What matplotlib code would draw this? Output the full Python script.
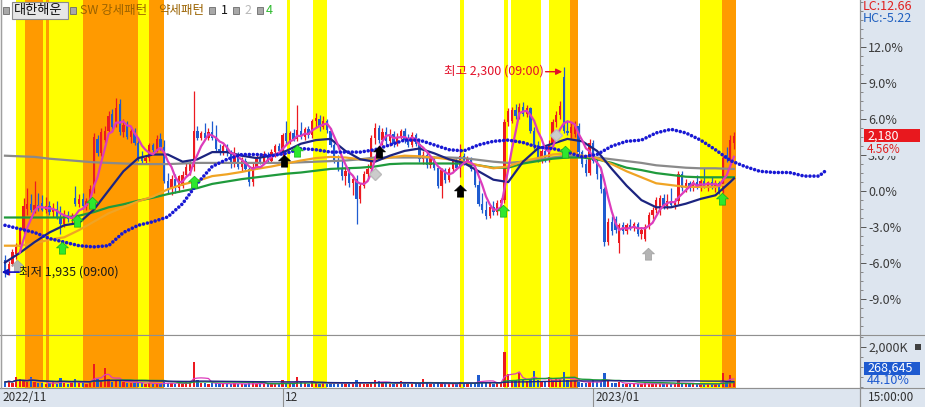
import numpy as np
import pandas as pd
import matplotlib
matplotlib.use("Agg")
import matplotlib.pyplot as plt
from matplotlib.path import Path
from matplotlib.patches import Rectangle
from matplotlib.lines import Line2D
import matplotlib.transforms as mtrans
from matplotlib.ticker import MultipleLocator

plt.rcParams['font.family'] = ['Noto Sans CJK KR', 'DejaVu Sans']

# ---------------- data (percent change vs. base price) ----------------
opens = [-5.8,-6.7,-6.1,-5.3,-4.7,-3.3,-1.5,-1.1,-1.6,-1.2,
         -1.0,-1.6,-1.3,-1.8,-1.5,-2.2,-2.8,-2.0,-2.4,-0.6,
         -1.1,-0.7,-1.3,-0.9,0.1,4.3,3.1,4.2,5.0,6.4,
         5.5,7.2,4.9,5.5,4.5,5.0,4.0,2.7,2.5,2.7,
         3.8,3.4,4.3,3.6,0.8,0.1,1.0,0.2,0.4,1.3,
         1.6,2.0,5.0,4.4,4.8,4.4,4.9,4.4,3.5,3.2,
         3.7,3.1,2.2,3.0,2.0,2.5,1.8,0.7,2.0,2.8,
         2.4,3.0,2.5,3.2,3.7,3.3,4.8,4.1,4.8,4.3,
         5.0,4.5,5.1,4.6,5.8,6.0,5.3,5.8,5.0,3.8,
         2.5,1.8,1.2,1.6,0.6,1.0,-0.7,0.4,1.4,1.8,
         4.4,5.2,4.2,4.9,4.1,4.7,3.9,4.5,5.0,4.2,
         3.8,4.6,3.9,2.6,3.0,2.1,2.7,1.9,0.4,1.7,
         0.9,1.8,2.5,1.9,2.9,2.3,2.6,1.8,0.5,-1.1,
         -1.6,-2.1,-1.4,-1.8,-1.0,-0.8,5.7,5.8,6.7,6.2,
         7.0,6.4,6.9,5.0,3.8,2.6,3.3,2.6,3.9,5.7,
         6.3,9.5,5.0,4.8,4.7,5.4,3.2,2.2,1.5,4.0,
         2.5,1.4,0.1,-4.3,-2.6,-2.4,-4.4,-2.9,-3.4,-2.9,
         -3.1,-2.8,-3.6,-4.0,-3.0,-2.0,-1.6,-1.8,-0.6,-1.3,
         -0.9,-1.2,-0.9,1.4,0.2,0.6,0.2,0.7,0.3,0.8,
         0.4,0.7,0.3,0.6,0.0,3.0,2.6,4.0]
highs = [-5.4,-5.9,-4.9,-4.4,-3.1,-0.6,0.2,-0.3,0.8,-0.2,
         -0.4,-0.5,-0.9,-1.0,-0.9,-1.3,-1.6,-1.7,-1.9,0.4,
         -0.3,-0.2,-0.6,0.5,4.8,4.6,5.2,5.4,6.6,6.8,
         7.7,7.6,6.0,5.8,5.3,5.2,4.3,3.3,3.0,4.0,
         4.0,4.6,4.8,4.2,1.5,1.3,1.4,1.3,1.6,2.3,
         2.5,8.3,5.4,5.0,5.6,5.2,5.8,5.5,3.9,3.9,
         3.9,3.4,3.6,3.2,2.8,2.7,2.0,2.3,3.0,3.1,
         3.3,3.2,3.5,3.9,4.0,4.8,5.8,5.0,5.1,7.1,
         5.7,5.3,5.4,6.0,6.5,6.3,6.2,6.0,5.2,4.0,
         3.0,2.6,2.0,1.9,1.2,1.3,0.6,1.6,2.2,4.6,
         5.6,5.5,5.2,5.3,5.1,5.0,4.8,5.1,5.2,4.7,
         4.9,4.8,4.2,3.3,3.2,3.0,2.9,2.0,1.9,1.9,
         2.0,2.6,2.7,3.9,3.1,2.9,2.8,2.0,0.9,-0.2,
         -0.9,-1.2,-0.9,-0.8,-0.6,6.0,6.9,7.0,7.2,7.3,
         7.4,7.1,7.0,5.3,4.1,3.5,3.6,4.2,6.0,6.6,
         7.5,10.3,5.9,5.6,5.8,5.6,3.4,2.6,4.3,4.2,
         2.8,1.9,0.3,-2.3,-2.1,-2.1,-2.7,-2.6,-2.7,-2.4,
         -2.6,-2.6,-3.0,-2.8,-1.8,-1.4,-0.5,-0.4,-0.3,-0.3,
         0.2,-0.6,1.6,1.6,1.0,0.8,0.9,1.3,1.0,1.9,
         0.8,1.1,0.9,0.8,2.9,3.6,4.6,4.9]
lows = [-7.2,-7.0,-6.3,-5.7,-5.0,-3.6,-2.0,-1.8,-1.9,-1.7,
        -1.7,-1.9,-2.0,-2.2,-2.4,-3.6,-3.0,-2.6,-2.7,-1.3,
        -1.4,-1.5,-1.6,-1.1,-0.2,2.9,2.9,4.0,4.8,5.0,
        5.3,4.6,4.5,4.3,4.0,3.8,2.5,2.2,2.2,2.5,
        3.2,3.2,3.4,0.6,-0.3,-0.4,-0.2,-0.1,0.2,1.1,
        1.3,1.6,4.2,4.2,4.3,4.2,4.2,3.2,3.0,3.0,
        2.9,1.9,2.0,1.8,1.6,1.6,0.4,0.4,1.8,2.2,
        2.2,2.3,2.3,2.8,3.0,2.9,3.8,3.9,4.1,4.1,
        4.3,4.2,4.4,4.4,5.2,5.0,5.1,4.8,3.6,2.3,
        1.6,0.9,0.5,0.3,-0.4,-2.8,-1.0,0.2,1.0,1.6,
        3.9,4.0,3.8,3.9,3.7,3.6,3.7,4.3,4.0,3.6,
        3.6,3.7,2.4,2.2,1.9,1.9,1.7,0.2,-0.6,0.6,
        0.7,1.6,1.7,1.1,2.1,2.1,1.6,0.3,-1.3,-1.9,
        -2.4,-2.3,-2.0,-2.0,-1.9,-1.0,5.4,5.6,6.0,6.0,
        6.2,6.1,4.8,3.5,2.4,2.3,2.4,2.4,3.7,5.3,
        6.0,4.8,4.6,4.4,4.5,3.0,2.0,1.2,1.3,2.3,
        1.0,-0.2,-4.6,-4.5,-3.7,-3.5,-5.2,-3.6,-3.6,-3.3,
        -3.4,-3.8,-4.0,-4.2,-3.2,-2.4,-1.9,-2.0,-1.5,-1.5,
        -1.4,-1.5,-1.1,0.0,-0.1,0.0,0.0,0.1,0.0,0.2,
        0.0,0.1,-0.1,-0.3,-0.2,2.4,2.4,3.5]
closes = [-6.7,-6.1,-5.1,-4.7,-3.3,-1.3,-1.1,-1.6,-1.2,-1.5,
          -1.6,-1.3,-1.8,-1.5,-2.2,-2.8,-2.0,-2.4,-2.1,-1.1,
          -0.7,-1.3,-0.9,0.1,4.5,3.1,4.9,5.0,6.2,5.3,
          6.9,4.9,5.5,4.5,5.0,4.0,2.7,2.5,2.7,3.8,
          3.4,4.3,3.6,0.8,0.1,1.0,0.2,1.2,1.3,2.0,
          2.2,5.0,4.4,4.8,4.4,4.9,4.4,3.5,3.2,3.7,
          3.1,2.2,3.0,2.0,2.5,1.8,0.7,2.0,2.8,2.4,
          3.0,2.5,3.2,3.7,3.3,4.6,4.1,4.8,4.3,5.0,
          4.5,5.1,4.6,5.8,6.0,5.3,5.8,5.0,3.8,2.5,
          1.8,1.2,1.6,0.6,1.0,-0.7,0.4,1.4,1.8,4.4,
          5.2,4.2,4.9,4.1,4.7,3.9,4.5,5.0,4.2,3.8,
          4.6,3.9,2.6,3.0,2.1,2.7,1.9,0.4,1.7,0.9,
          1.8,2.5,1.9,2.9,2.3,2.6,1.8,0.5,-1.1,-1.6,
          -2.1,-1.4,-1.8,-1.0,-0.8,5.7,6.6,6.7,6.2,7.0,
          6.4,6.9,5.0,3.8,2.6,3.3,2.6,3.9,5.7,6.3,
          7.0,5.0,4.8,5.3,5.4,3.2,2.2,1.5,4.0,2.5,
          1.4,0.1,-4.3,-2.6,-3.4,-3.3,-2.9,-3.4,-2.9,-3.1,
          -2.8,-3.6,-3.3,-3.0,-2.0,-1.6,-0.8,-0.6,-1.3,-0.9,
          -1.2,-0.9,1.4,0.2,0.6,0.2,0.7,0.3,0.8,0.4,
          0.7,0.3,0.6,0.0,2.7,2.6,4.2,4.56]
volumes_k = [250,310,220,520,380,290,240,520,260,180,
             210,160,190,230,170,470,200,160,210,400,
             180,220,170,260,1140,420,300,950,380,260,
             330,300,260,220,190,210,250,180,160,200,
             150,170,140,260,220,180,150,190,170,230,
             260,1240,330,220,180,160,210,190,150,140,
             170,160,190,150,140,130,180,230,160,150,
             140,170,150,180,160,350,200,170,190,520,
             230,190,160,300,210,170,180,160,190,230,
             200,180,150,170,160,350,190,170,160,230,
             350,300,200,180,160,150,170,300,190,160,
             150,180,170,420,190,160,150,180,200,150,
             140,170,150,260,180,150,160,190,620,280,
             230,200,170,190,220,1760,660,350,300,700,
             330,290,380,810,360,280,230,480,330,400,
             380,760,330,280,300,260,220,200,250,330,
             240,230,680,280,200,180,230,170,160,150,
             140,160,150,190,170,160,150,140,160,170,
             150,140,330,180,150,140,130,150,140,160,
             140,150,130,160,700,300,600,269]

line_bars = list(range(0, 197, 4)) + [197]
ma_gray = [2.9,2.85,2.8,2.65,2.55,2.45,2.35,2.3,2.25,2.2,
           2.2,2.2,2.25,2.3,2.3,2.3,2.3,2.3,2.3,2.3,
           2.35,2.4,2.45,2.5,2.6,2.75,2.75,2.75,2.75,2.75,
           2.75,2.7,2.55,2.4,2.3,2.4,2.55,2.75,2.9,2.85,
           2.75,2.6,2.45,2.3,2.1,2.0,1.9,1.85,1.85,1.8,1.8]
ma_green = [-2.25,-2.25,-2.25,-2.25,-2.25,-2.1,-1.8,-1.4,-1.15,-0.85,
            -0.6,-0.3,-0.05,0.2,0.55,0.75,0.95,1.1,1.25,1.4,
            1.5,1.65,1.8,1.85,1.9,2.0,2.2,2.25,2.25,2.25,
            2.25,2.25,2.1,1.9,1.9,2.25,2.45,2.65,2.75,2.75,
            2.6,2.3,1.9,1.7,1.45,1.3,1.15,1.1,1.1,1.1,1.1]
ma_orange = [-4.6,-4.6,-4.4,-4.1,-3.9,-3.3,-2.6,-1.9,-1.4,-0.9,
             -0.5,0.1,0.5,0.8,1.2,1.35,1.55,1.8,2.0,2.25,
             2.5,2.7,2.8,2.75,2.6,2.55,2.75,2.9,2.85,2.75,
             2.6,2.4,2.1,1.85,2.0,2.45,2.7,3.0,3.1,2.9,
             2.7,2.2,1.6,1.1,0.6,0.45,0.3,0.3,0.3,0.6,0.8]
ma_navy = [-6.0,-5.2,-4.3,-3.5,-2.9,-2.7,-1.6,0.0,1.6,2.7,
           3.0,3.0,2.4,2.6,3.2,3.2,2.9,2.7,2.9,3.3,
           3.9,4.2,4.3,3.3,2.6,2.4,2.9,3.3,3.5,3.1,
           2.6,2.3,1.6,0.9,0.7,2.4,3.5,3.9,4.3,4.1,
           3.3,1.8,0.4,-0.8,-1.4,-1.4,-1.1,-0.7,-0.4,0.7,1.0]

dot_bars = list(range(0, 221, 4)) + [222]
dot_vals = [-2.9,-3.2,-3.5,-4.0,-4.3,-4.6,-4.7,-4.6,-3.5,-2.9,
            -2.6,-2.2,-1.1,0.6,2.0,2.6,3.0,3.0,2.9,3.1,
            3.5,3.4,3.2,3.2,3.2,3.4,3.8,4.2,4.2,3.8,
            3.4,3.3,3.8,4.1,4.2,4.0,3.6,3.5,3.2,2.8,
            3.0,3.7,4.1,4.2,4.8,5.1,4.8,4.2,3.4,2.5,
            2.0,1.6,1.5,1.5,1.2,1.2,1.7]

yellow_bands = [(3.0, 5.4), (10.3, 11.1), (11.8, 21.1), (36.0, 38.9), (76.2, 77.0),
                (83.2, 87.0), (123.0, 124.1), (134.9, 135.9), (136.8, 144.9),
                (147.0, 152.7), (187.8, 193.8)]
orange_bands = [(5.4, 10.3), (11.1, 11.8), (21.1, 36.0), (38.9, 43.0),
                (152.7, 154.9), (193.8, 197.6)]

green_sig_x = [15.4, 19.5, 23.5, 51, 79, 134.6, 151.4, 193.8]
green_sig_y = [-4.8, -2.5, -1.0, 0.75, 3.3, -1.7, 3.2, -0.7]
black_sig_x = [75.4, 101, 123]
black_sig_y = [2.5, 3.2, 0.0]
gray_sig_x = [3.2, 173.8]
gray_sig_y = [-6.25, -5.25]
diamond_x = [100, 149]
diamond_y = [1.4, 4.6]

y_ticks = [12, 9, 6, 3, 0, -3, -6, -9]
date_labels = ['2022/11', '12', '2023/01']
date_bars = [0, 75, 159]

# ---------------- layout ----------------
W, H = 925, 407
fig = plt.figure(figsize=(W / 100, H / 100), dpi=100)
fig.patch.set_facecolor('white')
PANEL = '#dde5ef'
LINEC = '#909090'
RED = '#ec1a20'
BLUE = '#1f5cd0'

def box(x0, y0, x1, y1):
    return [x0 / W, 1 - y1 / H, (x1 - x0) / W, (y1 - y0) / H]

def ft(px, py, s, **kw):
    kw.setdefault('va', 'center')
    return fig.text(px / W, 1 - py / H, s, **kw)

fig.add_artist(Rectangle((860 / W, 0), 65 / W, 1, transform=fig.transFigure,
                         facecolor=PANEL, edgecolor='none', zorder=-5))
fig.add_artist(Rectangle((0, 0), 1, 19 / H, transform=fig.transFigure,
                         facecolor=PANEL, edgecolor='none', zorder=-5))

BAR0, BARW = 5.0, 3.7
XL = ((1 - BAR0) / BARW, (860 - BAR0) / BARW)
Y0 = 190.5
PPU = 12.0

ax = fig.add_axes(box(1, 0, 860, 335))
axv = fig.add_axes(box(1, 335, 860, 388))
axd = fig.add_axes(box(1, 388, 860, 407))
for a in (ax, axv, axd):
    a.set_xlim(*XL)
    a.set_xticks([])
    for s in ('top', 'left', 'right', 'bottom'):
        a.spines[s].set_color(LINEC)
        a.spines[s].set_linewidth(0.8)
    a.spines['top'].set_visible(False)
ax.set_ylim((Y0 - 335) / PPU, Y0 / PPU)

# bands
for a in (ax, axv):
    for s, e in yellow_bands:
        a.axvspan(s, e, color='#ffff00', lw=0, zorder=0)
    for s, e in orange_bands:
        a.axvspan(s, e, color='#ff9a00', lw=0, zorder=0)

# candles
x = np.arange(len(closes))
o = np.array(opens); h = np.array(highs); l = np.array(lows); c = np.array(closes)
up = c >= o
col = np.where(up, RED, BLUE)
ax.vlines(x, l, h, colors=col, linewidth=0.9, zorder=4)
body = c - o
body = np.where(np.abs(body) < 0.12, np.where(up, 0.12, -0.12), body)
ax.bar(x, body, bottom=o, width=0.62, color=col, linewidth=0, zorder=4)

# moving averages
ma5 = pd.Series(c).rolling(5).mean()
ax.plot(line_bars, ma_gray, color='#8a8a8a', lw=1.6, zorder=5)
ax.plot(line_bars, ma_green, color='#1f9a3c', lw=1.6, zorder=5)
ax.plot(line_bars, ma_orange, color='#f0a424', lw=1.6, zorder=5)
ax.plot(line_bars, ma_navy, color='#1c2480', lw=1.6, zorder=5)
ax.plot(x, ma5, color='#dc3cbc', lw=1.6, zorder=5)
ax.plot(dot_bars, dot_vals, color='#1818d4', lw=2.6, linestyle=(0, (0.01, 1.1)),
        dash_capstyle='round', zorder=6)

# signal markers
arrow = Path([(0, 1.0), (0.95, 0.1), (0.5, 0.1), (0.5, -0.9), (-0.5, -0.9),
              (-0.5, 0.1), (-0.95, 0.1), (0, 1.0)], closed=True)
ax.plot(green_sig_x, green_sig_y, ls='none', marker=arrow, ms=9,
        mfc='#2ee82e', mec='#18b018', mew=0.5, zorder=7)
ax.plot(black_sig_x, black_sig_y, ls='none', marker=arrow, ms=9,
        mfc='black', mec='black', mew=0.5, zorder=7)
ax.plot(gray_sig_x, gray_sig_y, ls='none', marker=arrow, ms=9,
        mfc='#b4b4b4', mec='#a0a0a0', mew=0.5, zorder=7)
ax.plot(diamond_x, diamond_y, ls='none', marker='D', ms=6,
        mfc='#cccccc', mec='#bbbbbb', zorder=7)

# high / low annotations
ax.text(145.7, 9.95, "최고 2,300 (09:00)", color='#e3102a', fontsize=9,
        ha='right', va='center', zorder=8)
ax.annotate('', xy=(150.6, 9.9), xytext=(146.1, 9.9),
            arrowprops=dict(arrowstyle='-|>', color='#e3102a', lw=1.0,
                            mutation_scale=9, shrinkA=0, shrinkB=0), zorder=8)
ax.text(3.9, -6.8, "최저 1,935 (09:00)", color='#1a1a1a', fontsize=9,
        ha='left', va='center', zorder=8)
ax.annotate('', xy=(-0.9, -6.8), xytext=(3.8, -6.8),
            arrowprops=dict(arrowstyle='-|>', color='#1010c0', lw=1.2,
                            mutation_scale=9, shrinkA=0, shrinkB=0), zorder=8)

# right price axis
ax.yaxis.tick_right()
ax.set_yticks(y_ticks)
ax.set_yticklabels([f"{t:.1f}%" for t in y_ticks])
ax.yaxis.set_minor_locator(MultipleLocator(0.75))
ax.tick_params(axis='y', which='major', length=4.3, width=0.7, colors='#555555',
               labelcolor='#3a3a3a', labelsize=9, pad=1.5)
ax.tick_params(axis='y', which='minor', length=2.2, width=0.6, colors='#777777')

# volume panel
vol = np.array(volumes_k, dtype=float)
axv.bar(x, vol, width=0.62, color=col, linewidth=0, zorder=3)
vs = pd.Series(vol)
axv.plot(x, vs.rolling(5, min_periods=1).mean(), color='#dc3cbc', lw=0.9, zorder=4)
axv.plot(x, vs.rolling(20, min_periods=1).mean(), color='#1f9a3c', lw=1.0, zorder=4)
axv.plot(x, vs.rolling(60, min_periods=1).mean(), color='#1c2480', lw=1.0, zorder=4)
axv.set_ylim(-50, 2600)
axv.yaxis.tick_right()
axv.set_yticks([2000])
axv.set_yticklabels(['2,000K'])
axv.yaxis.set_minor_locator(MultipleLocator(500))
axv.tick_params(axis='y', which='major', length=4.3, width=0.7, colors='#555555',
                labelcolor='#3a3a3a', labelsize=9, pad=1.5)
axv.tick_params(axis='y', which='minor', length=2.2, width=0.6, colors='#777777')

# date strip
axd.set_facecolor(PANEL)
axd.set_ylim(0, 1)
axd.set_yticks([])
axd.spines['left'].set_visible(False)
axd.spines['bottom'].set_visible(False)
off = mtrans.offset_copy(axd.transData, fig=fig, x=2, y=0, units='dots')
for i, (lab, b) in enumerate(zip(date_labels, date_bars)):
    if i == 0:
        axd.text(0.002, 0.5, lab, transform=axd.transAxes, fontsize=8.5,
                 color='#303030', va='center', ha='left')
    else:
        axd.axvline(b, color=LINEC, lw=0.8)
        axd.text(b, 0.5, lab, transform=off, fontsize=8.5, color='#303030',
                 va='center', ha='left')
ft(868, 397.5, "15:00:00", fontsize=8.5, color='#303030')

# frame lines
for yy in (335, 388):
    fig.add_artist(Line2D([0, 1], [1 - yy / H] * 2, transform=fig.transFigure,
                          color=LINEC, lw=0.8, zorder=9))
fig.add_artist(Line2D([860 / W] * 2, [0, 1], transform=fig.transFigure,
                      color=LINEC, lw=0.8, zorder=9))
fig.add_artist(Line2D([0.6 / W] * 2, [19 / H, 1], transform=fig.transFigure,
                      color='#a0a0a0', lw=1.0, zorder=9))

# right-side labels
ft(863, 6, "LC:12.66", color='#e02020', fontsize=9)
ft(863, 18.5, "HC:-5.22", color='#2060c0', fontsize=9)
tr = mtrans.blended_transform_factory(fig.transFigure, ax.transData)
last = closes[-1]
fig.add_artist(Rectangle((864 / W, last - 6.5 / PPU), 56 / W, 13 / PPU, transform=tr,
                         facecolor='#e8181e', edgecolor='none', zorder=10))
fig.text(867 / W, last, "2,180", transform=tr, color='white', fontsize=9,
         va='center', zorder=11)
fig.text(867 / W, last - 13.5 / PPU, "4.56%", transform=tr, color='#e02020',
         fontsize=8.5, va='center', zorder=11,
         bbox=dict(facecolor=PANEL, edgecolor='none', pad=0.0))
fig.add_artist(Rectangle((864 / W, 1 - 375 / H), 56 / W, 13 / H, transform=fig.transFigure,
                         facecolor='#1e5ad0', edgecolor='none', zorder=10))
ft(867, 368.5, "268,645", color='white', fontsize=9, zorder=11)
ft(867, 381, "44.10%", color='#1e5ad0', fontsize=9, zorder=11)
fig.add_artist(Rectangle((915 / W, 1 - 350 / H), 6 / W, 6 / H, transform=fig.transFigure,
                         facecolor='#404040', edgecolor='none', zorder=10))

# title row
for sx in (3, 70, 209, 233, 257):
    fig.add_artist(Rectangle((sx / W, 1 - 13.5 / H), 6 / W, 6 / H, transform=fig.transFigure,
                             facecolor='#a8a8a8', edgecolor='#6a6a6a', lw=0.6, zorder=10))
fig.add_artist(Rectangle((12 / W, 1 - 19 / H), 56 / W, 17 / H, transform=fig.transFigure,
                         facecolor='#e6e6e6', edgecolor='#8c8c8c', lw=0.8, zorder=10))
ft(14, 10.5, "대한해운", fontsize=9.5, color='#111111', zorder=11)
ft(80, 10.5, "SW 강세패턴", fontsize=9, color='#9a6200', zorder=11)
ft(158, 10.5, "약세패턴", fontsize=9, color='#9a6200', zorder=11)
ft(221, 10.5, "1", fontsize=9, color='#111111', zorder=11)
ft(244, 10.5, "2", fontsize=9, color='#b8b8b8', zorder=11)
ft(266, 10.5, "4", fontsize=9, color='#30bb30', zorder=11)

fig.savefig("out.png", dpi=100)
